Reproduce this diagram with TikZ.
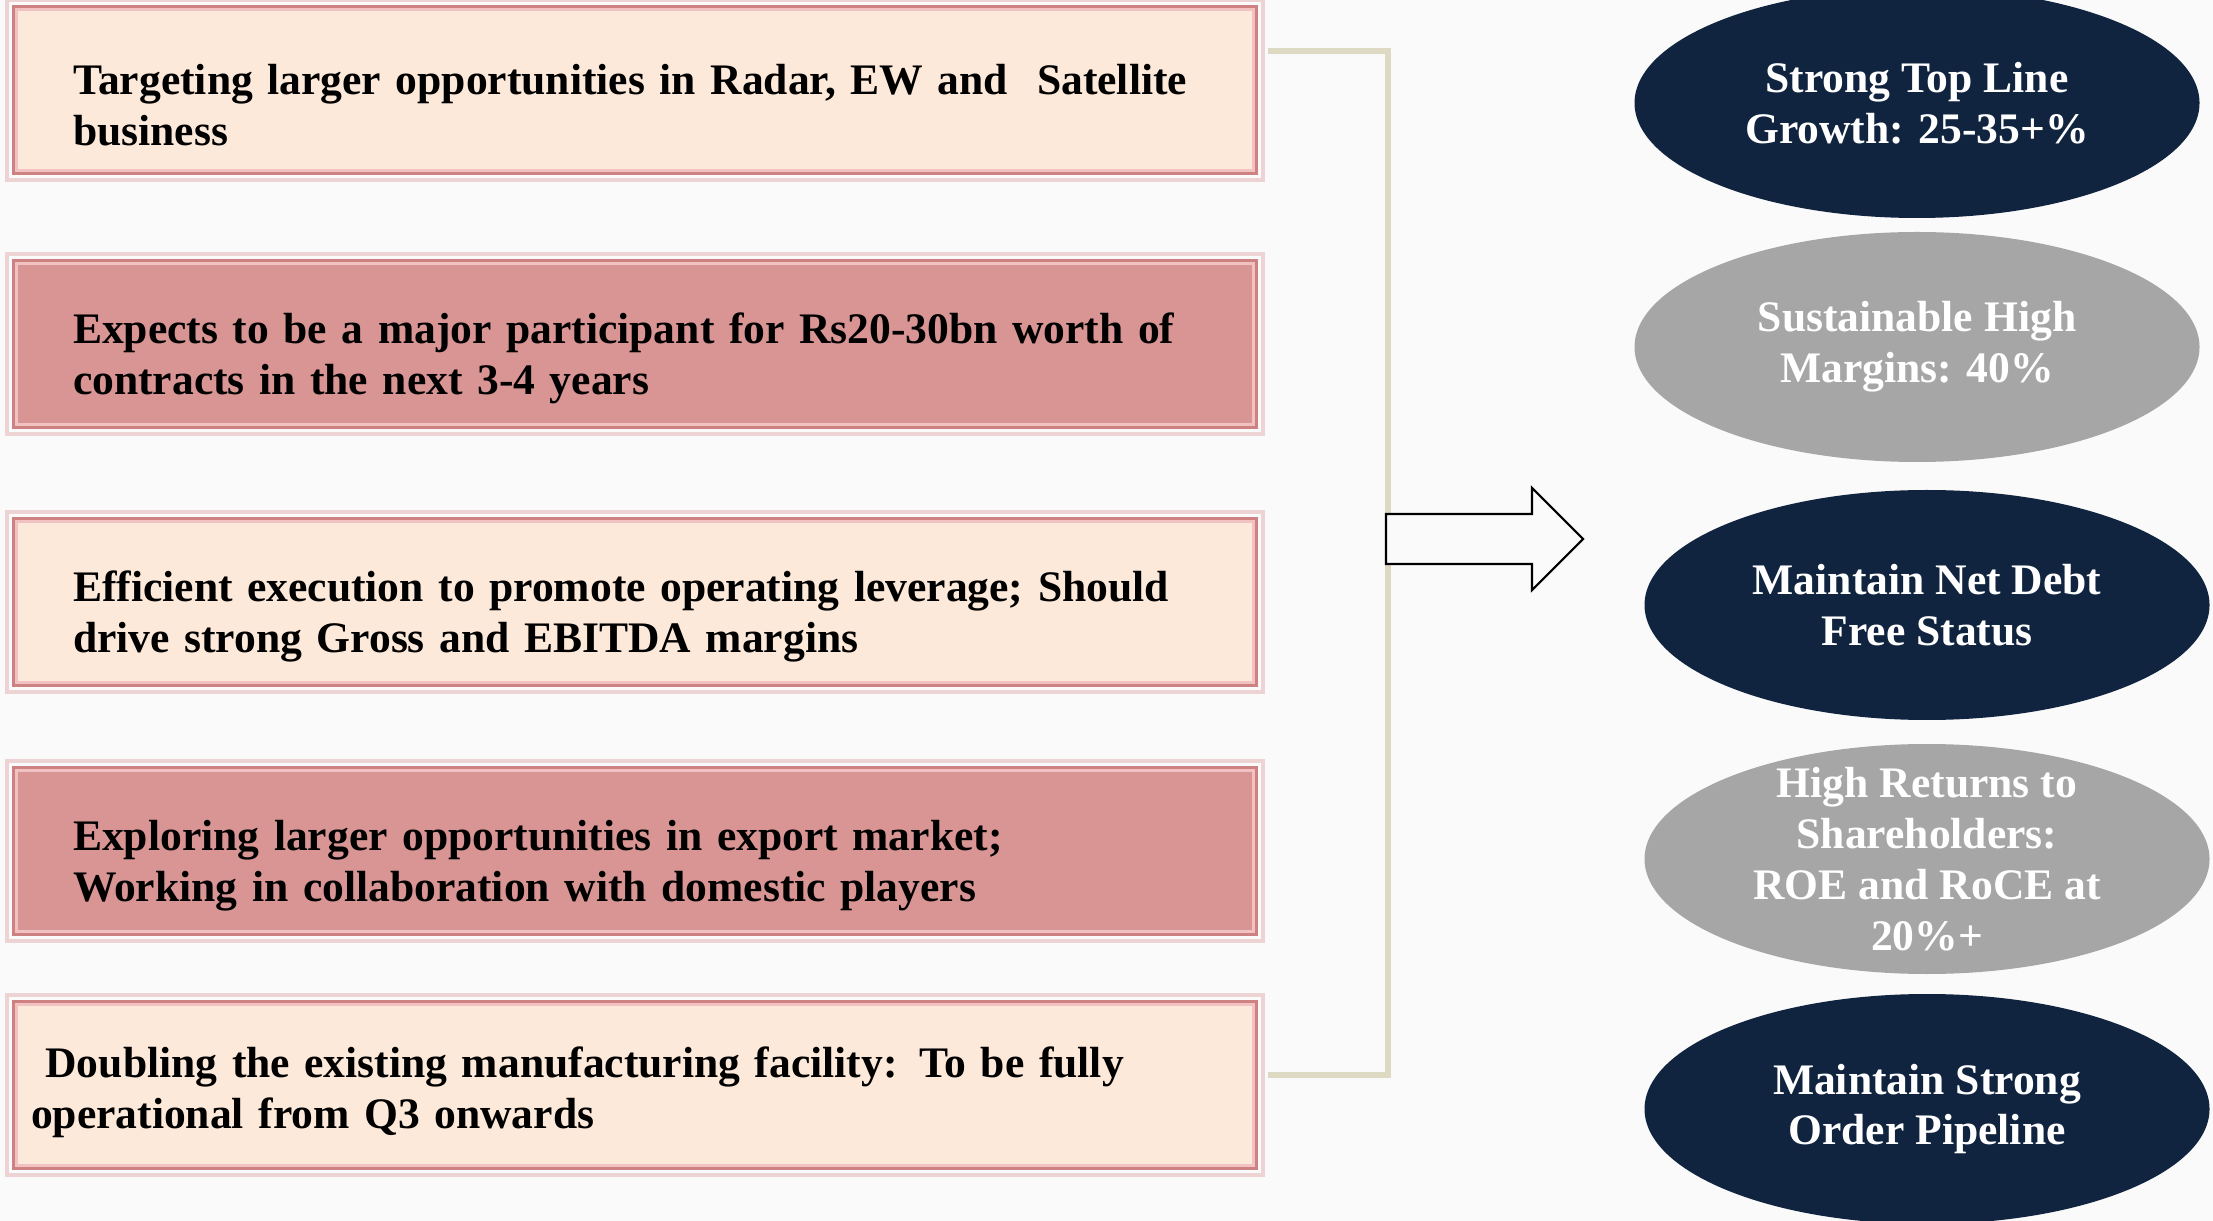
\documentclass[tikz,border=0pt]{standalone}
\usepackage{fontspec}
\setmainfont{Liberation Serif}
\usetikzlibrary{shapes.geometric}

\definecolor{peach}{HTML}{FDE9D9}
\definecolor{rose}{HTML}{D99594}
\definecolor{roseedge}{HTML}{CD8281}
\definecolor{rosepale}{HTML}{F2C2C2}
\definecolor{navy}{HTML}{10243F}
\definecolor{ovalgrey}{HTML}{A6A6A6}
\definecolor{bracketcol}{HTML}{DDD9C3}
\definecolor{pagebg}{HTML}{FAFAFA}

\tikzset{
  goalbox/.style={draw=roseedge, line width=1.4pt, minimum width=124.2mm, minimum height=16.6mm,
    text width=112.4mm, inner xsep=5.9mm, align=left, font=\bfseries\fontsize{12.4}{14.5}\selectfont,
    execute at begin node={\rule{0pt}{17pt}}},
  innerline/.style={draw=rosepale, line width=0.85pt},
  glowline/.style={draw=roseedge!35, line width=1.2pt},
  oval/.style={ellipse, minimum width=56.5mm, minimum height=23mm, inner sep=0pt, text=white,
    align=center, font=\bfseries\fontsize{12.4}{14.5}\selectfont},
  bracketline/.style={draw=bracketcol, line width=1.7pt},
  blockarrow/.style={draw=black, line width=0.6pt, fill=pagebg, line join=miter}
}

\begin{document}
\begin{tikzpicture}[x=0.1mm,y=-0.1mm]

  \fill[pagebg] (0,0) rectangle (2213,1221);
  \useasboundingbox (0,0) rectangle (2213,1221);

  % left column
  \node[goalbox, fill=peach] (b1) at (635,90)
    {Targeting larger opportunities in Radar, EW and\ \ Satellite\\business};
  \node[goalbox, fill=rose] (b2) at (635,344)
    {Expects to be a major participant for Rs20-30bn worth of\\contracts in the next 3-4 years};
  \node[goalbox, fill=peach] (b3) at (635,602)
    {Efficient execution to promote operating leverage; Should\\drive strong Gross and EBITDA margins};
  \node[goalbox, fill=rose] (b4) at (635,851)
    {Exploring larger opportunities in export market;\\Working in collaboration with domestic players};
  \node[goalbox, fill=peach, text width=120.8mm, inner xsep=1.7mm,
        execute at begin node={\rule{0pt}{10.4pt}},
        execute at end node={\rule[-7pt]{0pt}{0pt}}] (b5) at (635,1085)
    {\ Doubling the existing manufacturing facility: To be fully\\operational from Q3 onwards};

  \foreach \b in {b1,b2,b3,b4,b5}{
    \draw[innerline] ([shift={(1.3pt,-1.3pt)}]\b.north west) rectangle ([shift={(-1.3pt,1.3pt)}]\b.south east);
    \draw[glowline] ([shift={(-1.2pt,1.2pt)}]\b.north west) rectangle ([shift={(1.2pt,-1.2pt)}]\b.south east);
  }

  % bracket and arrow
  \coordinate (brtop) at (1268,51);
  \coordinate (brbot) at (1268,1075);
  \draw[bracketline] (brtop) -| (1388,1075) -- (brbot);

  \draw[blockarrow] (1386,514) -- (1532,514) -- (1532,488) -- (1583,539)
    -- (1532,590) -- (1532,564) -- (1386,564) -- cycle;

  % right column
  \node[oval, fill=navy] (o1) at (1917,103) {Strong Top Line\\Growth: 25-35+\%};
  \node[oval, fill=ovalgrey] (o2) at (1917,347) {Sustainable High\\Margins: 40\%};
  \node[oval, fill=navy] (o3) at (1927,605) {Maintain Net Debt\\Free Status};
  \node[oval, fill=ovalgrey, inner ysep=-4mm] (o4) at (1927,859) {High Returns to\\Shareholders:\\ROE and RoCE at\\20\%+};
  \node[oval, fill=navy] (o5) at (1927,1109) {Maintain Strong\\Order Pipeline};

\end{tikzpicture}
\end{document}
